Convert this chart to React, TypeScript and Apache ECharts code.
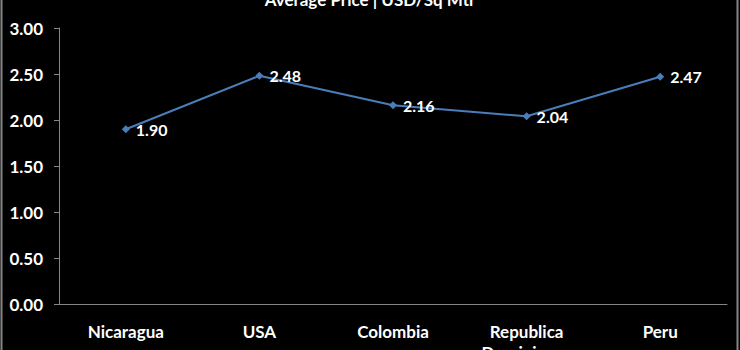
import React, { useEffect, useRef } from "react";
import * as echarts from "echarts";

const categories = ["Nicaragua", "USA", "Colombia", "Republica\nDominicana", "Peru"];
const prices = [1.9, 2.48, 2.16, 2.04, 2.47];
const yTicks = { min: 0, max: 3, interval: 0.5 };
const titleText = "Average Price | USD/Sq Mtr";

const FONT = "Lato, 'Open Sans', sans-serif";

export default function App() {
  const ref = useRef<HTMLDivElement>(null);
  useEffect(() => {
    if (!ref.current) return;
    const chart = echarts.init(ref.current, undefined, { renderer: "svg" });
    chart.setOption({
      animation: false,
      backgroundColor: "#000000",
      title: {
        text: titleText,
        left: "center",
        top: -14,
        textStyle: { color: "#ffffff", fontFamily: FONT, fontWeight: "bold", fontSize: 17 },
      },
      grid: { left: 59, right: 13, top: 28, bottom: 46, containLabel: false, outerBoundsMode: "none" },
      xAxis: {
        type: "category",
        data: categories,
        boundaryGap: true,
        axisLine: { show: true, lineStyle: { color: "#868686", width: 1 } },
        axisTick: { show: false },
        axisLabel: {
          color: "#ffffff",
          fontFamily: FONT,
          fontWeight: "bold",
          fontSize: 17,
          margin: 17,
          lineHeight: 21,
          interval: 0,
        },
      },
      yAxis: {
        type: "value",
        min: yTicks.min,
        max: yTicks.max,
        interval: yTicks.interval,
        axisLine: { show: true, lineStyle: { color: "#868686", width: 1 } },
        axisTick: { show: true, length: 5, lineStyle: { color: "#868686" } },
        splitLine: { show: false },
        axisLabel: {
          color: "#ffffff",
          fontFamily: FONT,
          fontWeight: "bold",
          fontSize: 17,
          margin: 16,
          formatter: (v: number) => v.toFixed(2),
        },
      },
      series: [
        {
          type: "line",
          data: prices,
          symbol: "diamond",
          symbolSize: 8,
          lineStyle: { color: "#4a7ebb", width: 2 },
          itemStyle: { color: "#4a7ebb" },
          label: {
            show: true,
            position: "right",
            distance: 6,
            color: "#ffffff",
            fontFamily: FONT,
            fontWeight: "bold",
            fontSize: 16,
            formatter: (p: any) => Number(p.value).toFixed(2),
          },
        },
      ],
      graphic: [
        {
          type: "rect",
          shape: { x: 1.5, y: -5, width: 736, height: 360 },
          style: { fill: "none", stroke: "#868686", lineWidth: 2 },
          silent: true,
        },
      ],
    });
    return () => chart.dispose();
  }, []);
  return (
    <div
      ref={ref}
      style={{ position: "absolute", left: 0, top: 0, width: 740, height: 350 }}
    />
  );
}
